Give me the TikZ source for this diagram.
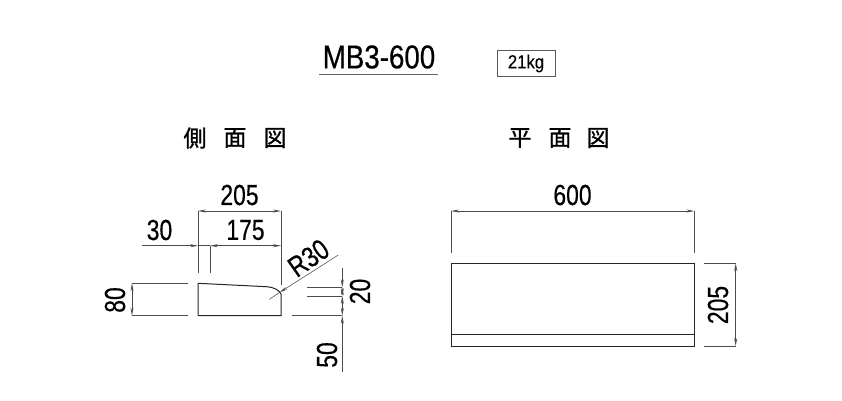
\documentclass[tikz,border=0pt]{standalone}
\usepackage{fontspec}
\usetikzlibrary{arrows.meta}
\setmainfont[FakeStretch=0.79,FakeBold=0.4]{Liberation Sans}
\newfontfamily\titlefont[FakeStretch=0.84,FakeBold=0.5]{Liberation Sans}
\newfontfamily\wtfont[FakeStretch=0.88,FakeBold=0.2]{Liberation Sans}
\newfontfamily\cjkfont[FakeBold=1]{Noto Sans CJK JP}
\tikzset{
  outline/.style={line width=1pt,draw=black!85},
  dimline/.style={line width=0.55pt,draw=black!70},
  dimarrow/.style={dimline,{Stealth[length=8pt,width=3pt,fill=black!45]}-{Stealth[length=8pt,width=3pt,fill=black!45]}},
  onearrow/.style={dimline,-{Stealth[length=8pt,width=3pt,fill=black!45]}},
  dimtext/.style={inner sep=0pt,font=\fontsize{29}{29}\selectfont},
  heading/.style={inner sep=0pt,font=\cjkfont\fontsize{23}{23}\selectfont},
}
\begin{document}
\begin{tikzpicture}[x=1pt,y=-1pt]
\useasboundingbox[fill=white] (0,0) rectangle (842,400);
% title
\node[inner sep=0pt,font=\titlefont\fontsize{33}{33}\selectfont] (title) at (379,57) {MB3-600};
\coordinate (ulL) at (319,74); \coordinate (ulR) at (438,74);
\draw[line width=0.7pt,draw=black!60] (ulL) -- (ulR);
\node[draw=black!65,line width=0.6pt,minimum width=58pt,minimum height=25.5pt,inner sep=0pt,font=\wtfont\fontsize{19}{19}\selectfont] (wt) at (526,63.5) {21kg};
% headings
\node[heading] (s1) at (195,138) {側};
\node[heading] (s2) at (235,138) {面};
\node[heading] (s3) at (275,138) {図};
\node[heading] (p1) at (520,138) {平};
\node[heading] (p2) at (560,138) {面};
\node[heading] (p3) at (598,138) {図};
% side view
\coordinate (TL) at (198,283.3); \coordinate (TR) at (266.7,286.7);
\coordinate (CR) at (281,294); \coordinate (BR) at (281,315.7); \coordinate (BL) at (198,315.7);
\draw[outline] (TL) -- (TR) .. controls (274,287.2) and (279,290) .. (CR) -- (BR) -- (BL) -- cycle;
% 205
\coordinate (a1) at (198,211); \coordinate (a2) at (281,211);
\coordinate (a1e) at (198,273); \coordinate (a2e) at (281,285);
\draw[dimarrow] (a1) -- (a2);
\draw[dimline] (a1) -- (a1e); \draw[dimline] (a2) -- (a2e);
\node[dimtext] (t205a) at (239.5,195) {205};
% 30 / 175
\coordinate (b0) at (141.7,245.7); \coordinate (b1) at (198,245.7);
\coordinate (b2) at (210,245.7); \coordinate (b3) at (281,245.7); \coordinate (b2e) at (210,273);
\draw[onearrow] (b0) -- (b1);
\draw[dimline] (b1) -- (b2);
\draw[dimarrow] (b2) -- (b3);
\draw[dimline] (b2) -- (b2e);
\node[dimtext] (t30) at (159.5,230) {30};
\node[dimtext] (t175) at (245.5,230) {175};
% 80
\coordinate (c1) at (132,283.3); \coordinate (c2) at (132,315.7);
\coordinate (c1e) at (188,283.3); \coordinate (c2e) at (188,315.7);
\draw[dimarrow] (c1) -- (c2);
\draw[dimline] (c1) -- (c1e); \draw[dimline] (c2) -- (c2e);
\node[dimtext,rotate=90] (t80) at (115,300) {80};
% R30
\coordinate (r0) at (338.3,255); \coordinate (r1) at (279.5,292.5); \coordinate (r2) at (269.3,299.3);
\draw[onearrow] (r0) -- (r1);
\draw[dimline] (r1) -- (r2);
\node[dimtext,rotate=35] (tR) at (308.5,258) {R30};
% 20 / 50
\coordinate (d0) at (342.3,267.7); \coordinate (d1) at (342.3,287.3); \coordinate (d2) at (342.3,296);
\coordinate (d3) at (342.3,315.7); \coordinate (d4) at (342.3,372);
\coordinate (d1e) at (306.7,287.3); \coordinate (d2e) at (306.7,296); \coordinate (d3e) at (291.7,315.7);
\draw[onearrow] (d0) -- (d1);
\draw[dimarrow] (d1) -- (d2);
\draw[dimarrow] (d2) -- (d3);
\draw[onearrow] (d4) -- (d3);
\draw[dimline] (d1e) -- (d1); \draw[dimline] (d2e) -- (d2); \draw[dimline] (d3e) -- (d3);
\node[dimtext,rotate=90] (t20) at (360,291.5) {20};
\node[dimtext,rotate=90] (t50) at (327,355) {50};
% plan view
\coordinate (PTL) at (451,263.3); \coordinate (PBR) at (694.3,346);
\draw[outline] (PTL) rectangle (PBR);
\coordinate (m1) at (451,334); \coordinate (m2) at (694.3,334);
\draw[outline] (m1) -- (m2);
% 600
\coordinate (e1) at (451,211); \coordinate (e2) at (694.3,211);
\coordinate (e1e) at (451,253); \coordinate (e2e) at (694.3,253);
\draw[dimarrow] (e1) -- (e2);
\draw[dimline] (e1) -- (e1e); \draw[dimline] (e2) -- (e2e);
\node[dimtext] (t600) at (572.5,195) {600};
% 205 plan
\coordinate (f1) at (735.7,263.3); \coordinate (f2) at (735.7,346);
\coordinate (f1e) at (704,263.3); \coordinate (f2e) at (704,346);
\draw[dimarrow] (f1) -- (f2);
\draw[dimline] (f1e) -- (f1); \draw[dimline] (f2e) -- (f2);
\node[dimtext,rotate=90] (t205b) at (718,305) {205};
\end{tikzpicture}
\end{document}
